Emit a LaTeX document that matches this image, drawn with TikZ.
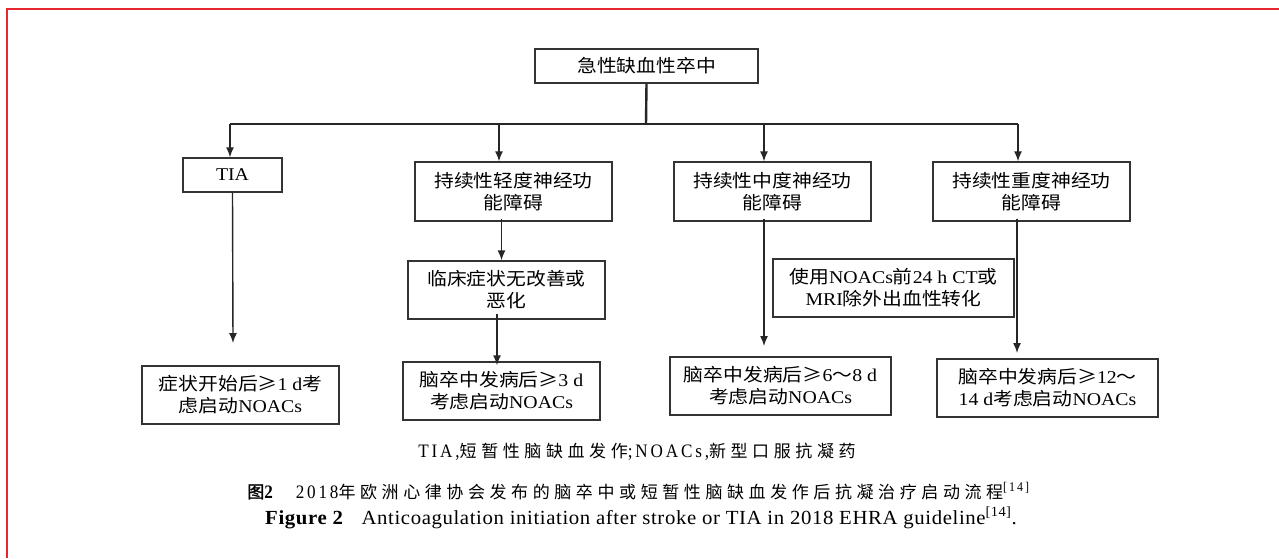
\documentclass[tikz,border=0pt]{standalone}
\usepackage{fontspec}
\setmainfont{Liberation Serif}
\usetikzlibrary{arrows.meta}
\newfontfamily\cjk[FakeStretch=1.1]{Noto Sans CJK SC}
\newfontfamily\lat[FakeStretch=1.1]{Liberation Serif}
\newfontfamily\capc[LetterSpace=27]{Noto Sans CJK SC}
\newfontfamily\capl[FakeStretch=0.9,LetterSpace=15]{Liberation Serif}
\newfontfamily\cape[FakeStretch=1.04,LetterSpace=3]{Liberation Serif}
\newfontfamily\cjkb[FakeBold=1.5]{Noto Sans CJK SC}
\newcommand\zh[1]{{\cjk #1}}
\newcommand\zc[1]{{\fontsize{17}{20}\capc #1}}
\definecolor{framered}{HTML}{E8262D}
\tikzset{
  box/.style={draw=black!80, line width=1.4pt, align=center, inner sep=0pt,
    font=\fontsize{18}{22}\selectfont\lat},
  arr/.style={draw=black!85, line width=1.4pt, -{Latex[length=10pt,width=8pt]}},
  ln/.style={draw=black!85, line width=1.4pt},
  captxt/.style={inner sep=0pt, font=\fontsize{19}{22}\selectfont\capl},
  capen/.style={inner sep=0pt, font=\fontsize{20}{22}\selectfont\cape},
}
\begin{document}
\begin{tikzpicture}[x=1pt,y=-1pt]
\useasboundingbox (0,0) rectangle (1279,558);
\fill[white] (0,0) rectangle (1279,558);
\draw[framered, line width=2pt] (7,558) -- (7,9) -- (1279,9);

\node[box, minimum width=223pt, minimum height=34pt] (top) at (646.5,66) {\zh{急性缺血性卒中}};
\node[box, minimum width=99pt, minimum height=34pt] (tia) at (232.5,175) {TIA};
\node[box, minimum width=197pt, minimum height=59pt] (mild) at (513.5,191.5) {\zh{持续性轻度神经功}\\\zh{能障碍}};
\node[box, minimum width=197pt, minimum height=59pt] (mod) at (772.5,191.5) {\zh{持续性中度神经功}\\\zh{能障碍}};
\node[box, minimum width=197pt, minimum height=59pt] (sev) at (1031.5,191.5) {\zh{持续性重度神经功}\\\zh{能障碍}};
\node[box, minimum width=197pt, minimum height=58pt] (lc) at (506.5,290) {\zh{临床症状无改善或}\\\zh{恶化}};
\node[box, minimum width=241pt, minimum height=58pt] (ct) at (893.5,288) {\zh{使用}NOACs\zh{前}24 h CT\zh{或}\\MRI\zh{除外出血性转化}};
\node[box, minimum width=197pt, minimum height=58pt] (r1) at (240.5,395) {\zh{症状开始后≥}1 d\zh{考}\\\zh{虑启动}NOACs};
\node[box, minimum width=197pt, minimum height=58pt] (r2) at (501.5,391) {\zh{脑卒中发病后≥}3 d\\\zh{考虑启动}NOACs};
\node[box, minimum width=221pt, minimum height=58pt] (r3) at (780.5,386) {\zh{脑卒中发病后≥}6\zh{～}8 d\\\zh{考虑启动}NOACs};
\node[box, minimum width=221pt, minimum height=58pt] (r4) at (1047.5,388) {\zh{脑卒中发病后≥}12\zh{～}\\14 d\zh{考虑启动}NOACs};

\coordinate (j) at (646,124);
\coordinate (hl) at (230,124);
\coordinate (hr) at (1018,124);
\coordinate (a2) at (499,124);
\coordinate (a3) at (764,124);
\coordinate (e1) at (233,343);
\coordinate (e3) at (764,346);
\coordinate (e4) at (1017,353);

\draw[ln, line width=2.4pt] (top.south) -- (j);
\draw[ln] (hl) -- (hr);
\draw[arr] (hl) -- (hl |- tia.north);
\draw[arr] (a2) -- (a2 |- mild.north);
\draw[arr] (a3) -- (a3 |- mod.north);
\draw[arr] (hr) -- (hr |- sev.north);
\draw[arr] (tia.south) -- (e1);
\draw[arr] ([xshift=-12pt,yshift=3pt]mild.south) -- ([xshift=-12pt]mild.south |- lc.north);
\draw[arr] ([xshift=-9.5pt,yshift=6pt]lc.south) -- ([xshift=-9.5pt,yshift=-4pt]lc.south |- r2.north);
\draw[arr] ([yshift=3pt]mod.south -| e3) -- (e3);
\draw[arr] ([yshift=3pt]sev.south -| e4) -- (e4);

\node[captxt] (c1) at (637,452) {TIA,\zc{短暂性脑缺血发作};NOACs,\zc{新型口服抗凝药}};
\node[captxt] (c2) at (638.5,491) {{\fontsize{17}{20}\cjkb 图}\textbf{2}\hspace{20pt}2018\zc{年欧洲心律协会发布的脑卒中或短暂性脑缺血发作后抗凝治疗启动流程}\textsuperscript{[14]}};
\node[capen] (c3) at (641,518) {\textbf{Figure 2}\hspace{18pt}Anticoagulation initiation after stroke or TIA in 2018 EHRA guideline\textsuperscript{[14]}.};
\end{tikzpicture}
\end{document}
